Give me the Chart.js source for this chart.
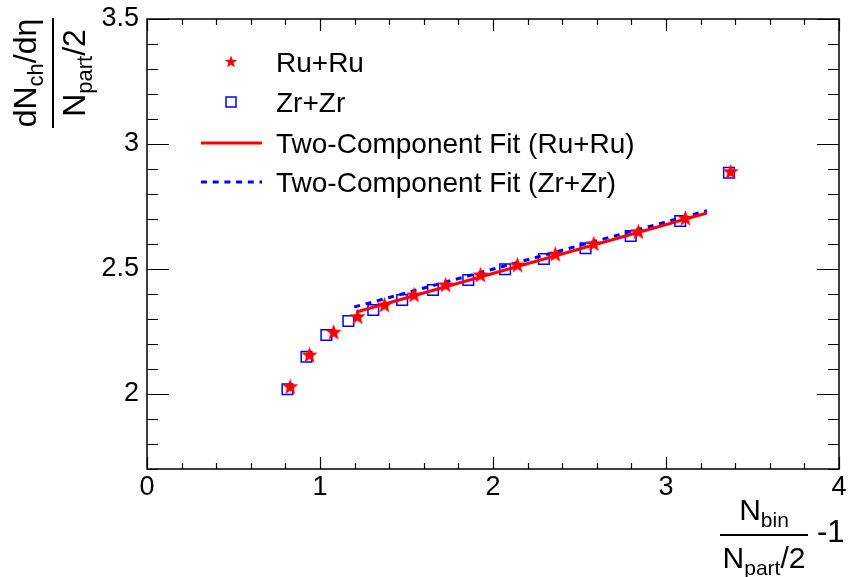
<!DOCTYPE html>
<html>
<head>
<meta charset="utf-8">
<script src="https://cdn.jsdelivr.net/npm/chart.js@4.4.0/dist/chart.umd.min.js"></script>
<style>
  html, body { margin: 0; padding: 0; background: #fff; }
  #chart { display: block; }
</style>
</head>
<body>
<canvas id="chart" width="848" height="577"></canvas>
<script>
// Ru+Ru (stars)
var ruX = [0.828, 0.939, 1.079, 1.217, 1.373, 1.544, 1.726, 1.928, 2.141, 2.360, 2.583, 2.840, 3.112, 3.374];
var ruY = [2.029, 2.156, 2.247, 2.309, 2.356, 2.396, 2.436, 2.476, 2.516, 2.559, 2.601, 2.649, 2.703, 2.889];
// Zr+Zr (open squares)
var zrX = [0.812, 0.922, 1.037, 1.164, 1.308, 1.475, 1.653, 1.857, 2.070, 2.294, 2.535, 2.796, 3.082, 3.364];
var zrY = [2.019, 2.149, 2.236, 2.292, 2.336, 2.376, 2.416, 2.456, 2.499, 2.540, 2.583, 2.632, 2.692, 2.885];
// two-component fits (straight lines, end points)
var fitRuX = [1.210, 3.237];
var fitRuY = [2.328, 2.724];
var fitZrX = [1.198, 3.237];
var fitZrY = [2.348, 2.733];

var xTicks = [0, 1, 2, 3, 4];
var yTicks = [2, 2.5, 3, 3.5];
var legendLabels = ['Ru+Ru', 'Zr+Zr', 'Two-Component Fit (Ru+Ru)', 'Two-Component Fit (Zr+Zr)'];

var FONT = '"Liberation Sans", Arial, Helvetica, sans-serif';

function pts(xs, ys) {
    return xs.map(function (x, i) { return { x: x, y: ys[i] }; });
}

function starPath(g, cx, cy, r) {
    g.beginPath();
    for (var i = 0; i < 10; i++) {
        var rad = i % 2 ? r * 0.42 : r;
        var a = -Math.PI / 2 + i * Math.PI / 5;
        g.lineTo(cx + rad * Math.cos(a), cy + rad * Math.sin(a));
    }
    g.closePath();
}

function makeStar(r, color) {
    var c = document.createElement('canvas');
    c.width = c.height = Math.ceil(2 * r + 2);
    var g = c.getContext('2d');
    g.fillStyle = color;
    starPath(g, c.width / 2, c.height / 2 + 0.5, r);
    g.fill();
    return c;
}

var starImg = makeStar(8.5, '#ff0000');

// sub-scripted text pieces: [[text, isSub], ...]
function richWidth(ctx, parts, size, subSize) {
    var w = 0;
    parts.forEach(function (p) {
        ctx.font = (p[1] ? subSize : size) + 'px ' + FONT;
        w += ctx.measureText(p[0]).width;
    });
    return w;
}
function drawRich(ctx, parts, x, y, size, subSize, subDrop) {
    parts.forEach(function (p) {
        ctx.font = (p[1] ? subSize : size) + 'px ' + FONT;
        ctx.fillText(p[0], x, p[1] ? y + subDrop : y);
        x += ctx.measureText(p[0]).width;
    });
}
function drawFraction(ctx, num, den, cx, lineY, lineLen, size, sub, numGap, denGap) {
    var drop = 7;
    ctx.textAlign = 'left';
    ctx.textBaseline = 'alphabetic';
    var wn = richWidth(ctx, num, size, sub);
    var wd = richWidth(ctx, den, size, sub);
    drawRich(ctx, num, cx - wn / 2, lineY - numGap, size, sub, drop);
    drawRich(ctx, den, cx - wd / 2, lineY + denGap, size, sub, drop);
    ctx.lineWidth = 2;
    ctx.beginPath();
    ctx.moveTo(cx - lineLen / 2, lineY);
    ctx.lineTo(cx + lineLen / 2, lineY);
    ctx.stroke();
}

var rootFrame = {
    id: 'rootFrame',
    afterDraw: function (chart) {
        var ctx = chart.ctx;
        var a = chart.chartArea;
        var xs = chart.scales.x, ys = chart.scales.y;
        ctx.save();
        ctx.strokeStyle = '#000';
        ctx.fillStyle = '#000';
        ctx.lineWidth = 1.5;
        ctx.strokeRect(a.left, a.top, a.right - a.left, a.bottom - a.top);

        ctx.lineWidth = 1.2;
        ctx.beginPath();
        for (var i = 0; i <= 20; i++) {
            var v = i * 0.2;
            var px = Math.round(xs.getPixelForValue(v)) + 0.5;
            var len = (i % 5 === 0) ? 12 : 6;
            ctx.moveTo(px, a.bottom); ctx.lineTo(px, a.bottom - len);
            ctx.moveTo(px, a.top); ctx.lineTo(px, a.top + len);
        }
        for (var j = 17; j <= 35; j++) {
            var vy = j / 10;
            var py = Math.round(ys.getPixelForValue(vy)) + 0.5;
            var ylen = (j % 5 === 0) ? 22 : 11;
            ctx.moveTo(a.left, py); ctx.lineTo(a.left + ylen, py);
            ctx.moveTo(a.right, py); ctx.lineTo(a.right - ylen, py);
        }
        ctx.stroke();

        // legend
        var rows = [62, 102, 143, 182];
        var mx = 231;
        ctx.fillStyle = '#ff0000';
        starPath(ctx, mx, rows[0], 6.5);
        ctx.fill();
        ctx.strokeStyle = '#0000ff';
        ctx.lineWidth = 1.5;
        ctx.strokeRect(mx - 5, rows[1] - 5, 10, 10);
        ctx.lineWidth = 3;
        ctx.strokeStyle = '#ff0000';
        ctx.beginPath(); ctx.moveTo(201, rows[2]); ctx.lineTo(262, rows[2]); ctx.stroke();
        ctx.strokeStyle = '#0000ff';
        ctx.setLineDash([6, 5.7]);
        ctx.beginPath(); ctx.moveTo(201, rows[3]); ctx.lineTo(262, rows[3]); ctx.stroke();
        ctx.setLineDash([]);

        ctx.fillStyle = '#000';
        ctx.font = '28px ' + FONT;
        ctx.textAlign = 'left';
        ctx.textBaseline = 'alphabetic';
        legendLabels.forEach(function (t, k) {
            ctx.fillText(t, 276, rows[k] + 10);
        });

        // x title
        ctx.strokeStyle = '#000';
        drawFraction(ctx, [['N', false], ['bin', true]], [['N', false], ['part', true], ['/2', false]],
            764, 535, 88, 30, 21, 15, 33);
        ctx.font = '31px ' + FONT;
        ctx.fillText('-1', 817, 542);

        // y title (rotated)
        ctx.save();
        ctx.translate(53, 73);
        ctx.rotate(-Math.PI / 2);
        drawFraction(ctx, [['dN', false], ['ch', true], ['/d\u03b7', false]], [['N', false], ['part', true], ['/2', false]],
            0, 0, 110, 32, 22, 17, 32);
        ctx.restore();

        ctx.restore();
    }
};

new Chart(document.getElementById('chart').getContext('2d'), {
    type: 'scatter',
    data: {
        datasets: [
            {
                label: legendLabels[0],
                data: pts(ruX, ruY),
                pointStyle: starImg,
                order: 0
            },
            {
                label: legendLabels[2],
                data: pts(fitRuX, fitRuY),
                showLine: true,
                borderColor: '#ff0000',
                borderWidth: 3,
                pointRadius: 0,
                order: 1
            },
            {
                label: legendLabels[3],
                data: pts(fitZrX, fitZrY),
                showLine: true,
                borderColor: '#0000ff',
                borderWidth: 3,
                borderDash: [6, 5.7],
                pointRadius: 0,
                order: 2
            },
            {
                label: legendLabels[1],
                data: pts(zrX, zrY),
                pointStyle: 'rect',
                pointRadius: 7.5,
                borderColor: '#0000ff',
                borderWidth: 1.5,
                backgroundColor: 'rgba(0,0,0,0)',
                order: 3
            }
        ]
    },
    options: {
        responsive: false,
        animation: false,
        events: [],
        devicePixelRatio: 1,
        layout: { padding: { left: 0, top: 19, right: 6, bottom: 0 } },
        plugins: { legend: { display: false }, tooltip: { enabled: false } },
        scales: {
            x: {
                type: 'linear',
                min: 0, max: 4,
                grid: { display: false, drawTicks: false },
                border: { display: false },
                afterBuildTicks: function (s) { s.ticks = xTicks.map(function (v) { return { value: v }; }); },
                afterFit: function (s) { s.height = 108; s.paddingLeft = 0; s.paddingRight = 0; },
                ticks: {
                    padding: 2,
                    color: '#000',
                    maxRotation: 0,
                    font: { family: FONT, size: 27 },
                    callback: function (v) { return String(v); }
                }
            },
            y: {
                type: 'linear',
                min: 1.7, max: 3.5,
                grid: { display: false, drawTicks: false },
                border: { display: false },
                afterBuildTicks: function (s) { s.ticks = yTicks.map(function (v) { return { value: v }; }); },
                afterFit: function (s) { s.width = 147; s.paddingTop = 0; s.paddingBottom = 0; },
                ticks: {
                    padding: 8,
                    color: '#000',
                    font: { family: FONT, size: 27 },
                    callback: function (v) { return String(v); }
                }
            }
        }
    },
    plugins: [rootFrame]
});
</script>
</body>
</html>
